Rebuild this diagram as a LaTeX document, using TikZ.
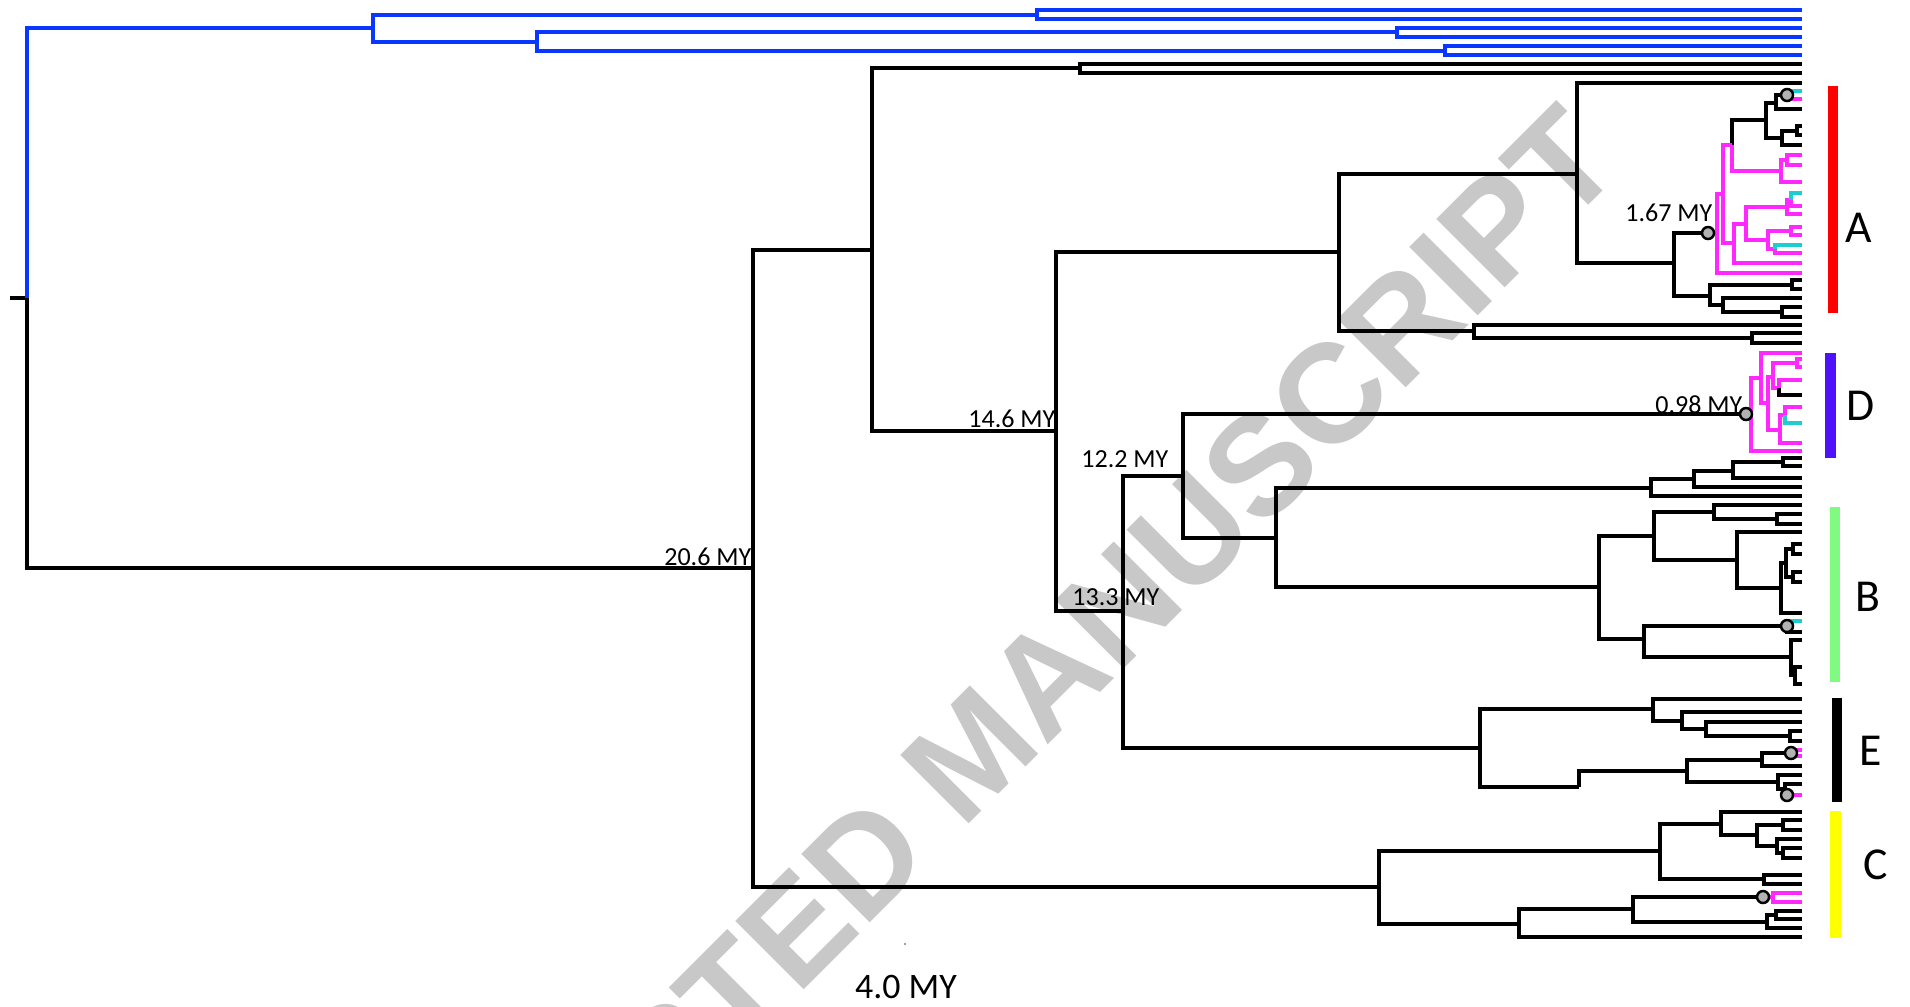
\documentclass[tikz,border=0pt]{standalone}
\usepackage{fontspec}
\setmainfont{Carlito}
\newfontfamily\wmfont{Liberation Sans}
\definecolor{treeblue}{RGB}{10,55,255}
\definecolor{hostmag}{RGB}{255,40,255}
\definecolor{hostcyan}{RGB}{30,205,205}
\definecolor{barD}{RGB}{80,16,250}
\definecolor{barB}{RGB}{128,250,128}
\definecolor{barC}{RGB}{255,255,0}
\definecolor{wmgray}{RGB}{200,200,200}
\tikzset{
  br/.style={line width=0.95pt},
  bl/.style={line width=1.1pt, draw=treeblue},
  mg/.style={br, draw=hostmag},
  cy/.style={br, draw=hostcyan},
  age/.style={font=\fontsize{7.4}{9}\selectfont, inner sep=0pt, anchor=east},
  circ/.style={circle, draw, fill=gray!60, line width=0.7pt, inner sep=0pt, minimum size=0.12cm},
  cladelab/.style={font=\fontsize{13}{15}\selectfont, inner sep=0pt}
}
\begin{document}
\begin{tikzpicture}[x=0.01cm, y=-0.01cm]
\useasboundingbox (0,0) rectangle (1910,1006);
\begin{scope}
\clip (0,0) rectangle (1910,1006);
\node[rotate=45, text=wmgray, font=\wmfont\bfseries\fontsize{40}{48}\selectfont] (wm) at (973,752) {ACCEPTED MANUSCRIPT};
\end{scope}
\foreach \n/\x/\y in {root/27/298, stem/10/298,
  b0/373/28, b1/1037/15, b2/537/42, b3/1397/32, b4/1445/51,
  n20/753/568, n17/872/250, n14/1080/68, n146/1056/431, n13/1339/252,
  nA/1577/174, nA2/1674/263, c167/1708/233, mA/1717/233, mA1/1723/194, kA/1732/145,
  kA1/1766/120, kA2/1776/103, cA/1787/95, kA3/1782/138, kA4/1797/131,
  mA3/1781/171, mA4/1787/160, mA2/1734/243, mA5/1746/224, mA6/1787/207, mA8/1791/200,
  mA7/1768/240, mA9/1791/231, mA10/1775/249,
  nA3/1710/296, nA4/1792/285, nA5/1723/305, nA6/1782/312, n147/1474/331, nA7/1752/338,
  n133/1123/611, n122/1183/476, cD/1746/414, mD/1751/414, mD1/1761/378, mD2/1768/403,
  mD3/1773/377, mD4/1797/363, mD5/1779/388, mD6/1780/430, mD7/1785/415,
  nB0/1276/538, nB1/1651/488, nB2/1694/479, nB3/1733/471, nB4/1783/462,
  nB5/1599/587, nB6/1654/536, nB8/1714/512, nB10/1777/519, nB9/1737/560,
  nB11/1781/588, nB12/1786/563, nB13/1793/549, nB14/1793/577,
  nB7/1644/639, cB/1787/626, nB15/1791/657, nB16/1795/675,
  nE/1480/748, nE1/1653/709, nE2/1682/721, nE3/1706/729, nE4/1790/736,
  nE5/1579/787, nE6/1687/771, nE7/1762/760, cE1/1791/753, nE8/1778/782, nE9/1785/789, cE2/1787/795,
  nC/1379/887, nC1/1660/851, nC2/1721/824, nC4/1757/835, nC5/1783/825, nC6/1777/846,
  nC7/1783/853, nC3/1764/879, nC8/1519/924, nC9/1633/909, cC/1763/897, mC/1773/897,
  nC10/1767/922, nC11/1776/915}
  \coordinate (\n) at (\x,\y);
\draw[br] (stem) -- (root);
\foreach \a/\b in {root/b0, b0/b1, b0/b2, b2/b3, b2/b4}
  \draw[bl] (\a) |- (\b);
\foreach \a/\y in {b1/10, b1/19, b3/28, b3/37, b4/46, b4/55}
  {\coordinate (t\y) at (1802,\y); \draw[bl] (\a) |- (t\y);}
\foreach \a/\b in {root/n20, n20/n17, n20/nC, n17/n14, n17/n146, n146/n13, n146/n133,
  n13/nA, n13/n147, nA/nA2, nA2/c167, nA2/nA3, nA3/nA4, nA3/nA5, nA5/nA6, n147/nA7,
  kA/kA1, kA1/kA2, kA2/cA, kA1/kA3, kA3/kA4, n133/n122, n133/nE, n122/cD, n122/nB0,
  nB0/nB1, nB0/nB5, nB1/nB2, nB2/nB3, nB3/nB4, nB5/nB6, nB5/nB7, nB6/nB8, nB6/nB9,
  nB8/nB10, nB9/nB11, nB11/nB12, nB12/nB13, nB12/nB14, nB7/cB, nB7/nB15, nB15/nB16,
  nE/nE1, nE/nE5, nE1/nE2, nE2/nE3, nE3/nE4, nE5/nE6, nE6/nE7, nE7/cE1, nE6/nE8,
  nE8/nE9, nE9/cE2, nC/nC1, nC/nC8, nC1/nC2, nC1/nC3, nC2/nC4, nC4/nC5, nC4/nC6,
  nC6/nC7, nC8/nC9, nC9/cC, nC9/nC10, nC10/nC11}
  \draw[br] (\a) |- (\b);
\foreach \a/\b in {c167/mA, mA/mA1, mA1/kA, mA1/mA2, kA/mA3, mA3/mA4, mA2/mA5, mA5/mA6,
  mA5/mA7, mA6/mA8, mA7/mA9, mA7/mA10, cD/mD, mD/mD1, mD1/mD2, mD2/mD3, mD2/mD6,
  mD3/mD4, mD3/mD5, mD6/mD7, cC/mC}
  \draw[mg] (\a) |- (\b);
\foreach \a/\y in {n14/64, n14/73, nA/83, kA2/109, kA4/126, kA4/135, kA3/145, nA4/280,
  nA4/289, nA5/298, nA6/307, nA6/317, n147/325, nA7/333, nA7/343, mD5/395, nB4/458,
  nB4/466, nB3/478, nB2/487, nB1/496, nB8/505, nB10/514, nB10/524, nB9/532, nB13/544,
  nB13/554, nB14/572, nB14/582, nB11/613, cB/632, nB15/640, nB16/667, nB16/684,
  nE1/699, nE2/712, nE3/722, nE4/731, nE4/741, nE7/766, nE8/775, nE9/784, nC2/812,
  nC5/820, nC5/830, nC6/839, nC7/848, nC7/858, nC3/875, nC3/884, nC11/911, nC11/919,
  nC10/928, nC8/937}
  {\coordinate (t\y) at (1802,\y); \draw[br] (\a) |- (t\y);}
\foreach \a/\y in {cA/99, mA4/155, mA4/165, mA3/182, mA8/206, mA6/214, mA9/227, mA9/235,
  mA10/253, mA2/263, mA/273, mD1/353, mD4/359, mD4/367, mD5/380, mD7/407, mD6/443,
  mD/451, cE1/750, cE1/756, cE2/795, mC/893, mC/902}
  {\coordinate (t\y) at (1802,\y); \draw[mg] (\a) |- (t\y);}
\foreach \a/\y in {cA/91, mA8/193, mA10/245, mD7/423, cB/621}
  {\coordinate (t\y) at (1802,\y); \draw[cy] (\a) |- (t\y);}
\foreach \c in {c167, cA, cD, cB, cE1, cE2, cC}
  \node[circ] (o\c) at (\c) {};
\node[age] (l206) at (752,557) {20.6 MY};
\node[age] (l146) at (1056,419) {14.6 MY};
\node[age] (l122) at (1169,459) {12.2 MY};
\node[age] (l133) at (1160,597) {13.3 MY};
\node[age] (l167) at (1713,213) {1.67 MY};
\node[age] (l098) at (1743,405) {0.98 MY};
\fill[gray] (905,944) circle (1.2);
\node[font=\fontsize{10.2}{12}\selectfont] (scale) at (906,987) {4.0 MY};
\fill[red] (1828,86) rectangle (1838,313);
\fill[barD] (1825,353) rectangle (1836,458);
\fill[barB] (1830,507) rectangle (1840,682);
\fill[black] (1832,698) rectangle (1842,802);
\fill[barC] (1830,811) rectangle (1841,938);
\node[cladelab] (labA) at (1859,228) {A};
\node[cladelab] (labD) at (1861,406) {D};
\node[cladelab] (labB) at (1868,597) {B};
\node[cladelab] (labE) at (1871,751) {E};
\node[cladelab] (labC) at (1876,865) {C};
\end{tikzpicture}
\end{document}
